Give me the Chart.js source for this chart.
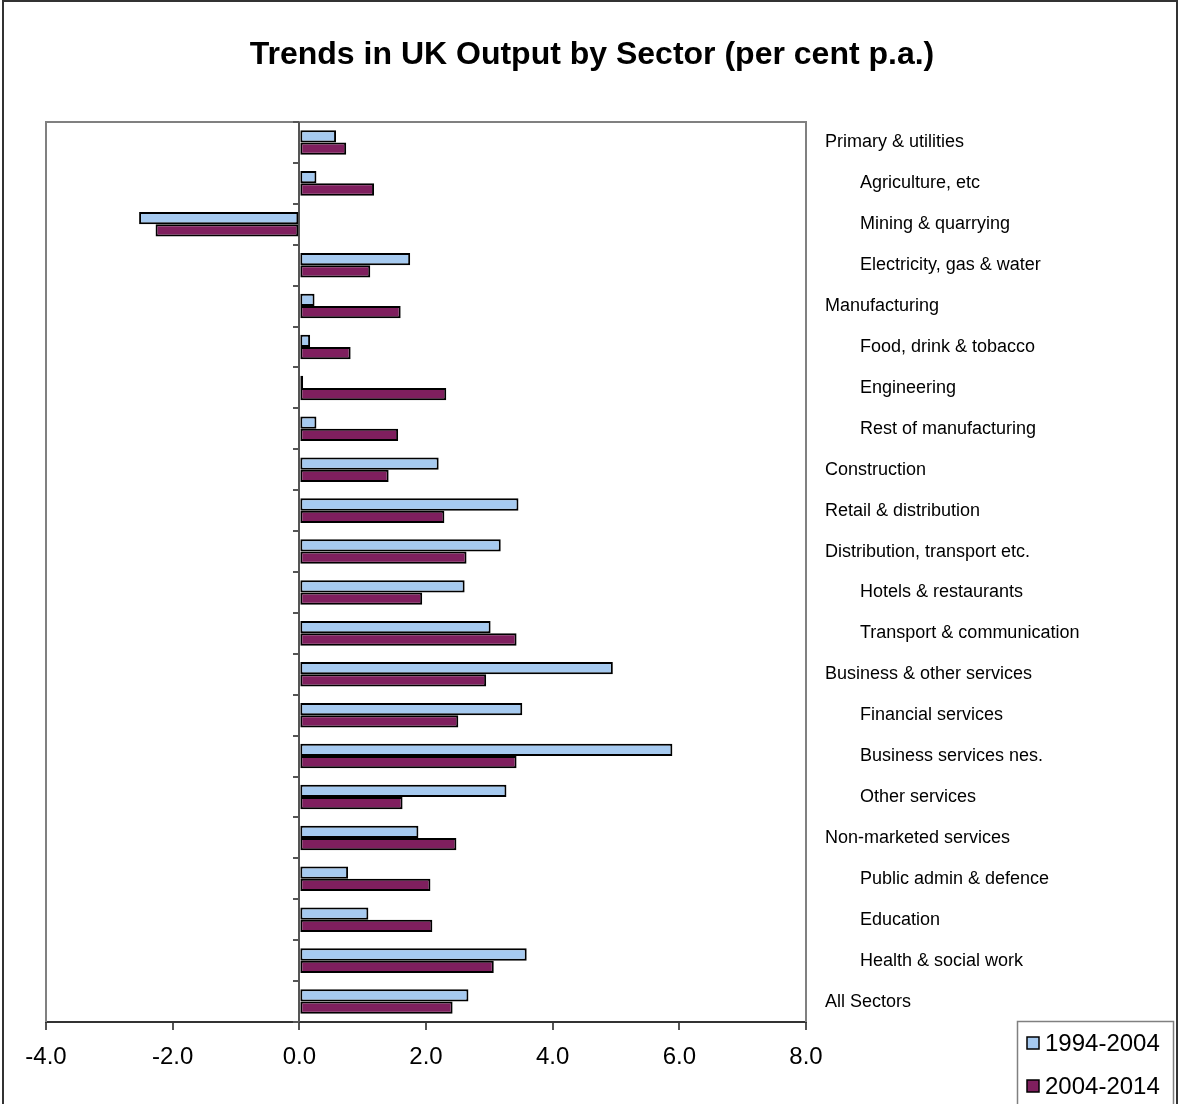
<!DOCTYPE html>
<html>
<head>
<meta charset="utf-8">
<script src="https://cdn.jsdelivr.net/npm/chart.js@4/dist/chart.umd.min.js"></script>
<style>
  html, body { margin: 0; padding: 0; background: #fff; }
  #wrap { width: 1179px; height: 1104px; position: relative; }
</style>
</head>
<body>
<div id="wrap"><canvas id="myChart"></canvas></div>
<script>
// sector names, indent flag marks sub-sectors
var sectors = [
    'Primary & utilities', 'Agriculture, etc', 'Mining & quarrying', 'Electricity, gas & water',
    'Manufacturing', 'Food, drink & tobacco', 'Engineering', 'Rest of manufacturing',
    'Construction', 'Retail & distribution', 'Distribution, transport etc.',
    'Hotels & restaurants', 'Transport & communication', 'Business & other services',
    'Financial services', 'Business services nes.', 'Other services',
    'Non-marketed services', 'Public admin & defence', 'Education',
    'Health & social work', 'All Sectors'
];
var indented = [0, 1, 1, 1, 0, 1, 1, 1, 0, 0, 0, 1, 1, 0, 1, 1, 1, 0, 1, 1, 1, 0];

var growth9404 = [0.58, 0.27, -2.53, 1.75, 0.24, 0.17, 0.06, 0.27, 2.20, 3.46, 3.18,
    2.61, 3.02, 4.95, 3.52, 5.89, 3.27, 1.88, 0.77, 1.09, 3.59, 2.67];
var growth0414 = [0.74, 1.18, -2.27, 1.12, 1.60, 0.81, 2.32, 1.56, 1.41, 2.29, 2.64,
    1.94, 3.43, 2.95, 2.51, 3.43, 1.63, 2.48, 2.07, 2.10, 3.07, 2.42];

var seriesNames = ['1994-2004', '2004-2014'];
var seriesColors = ['#a6caf0', '#7f1f5e'];

var xTicks = [-4, -2, 0, 2, 4, 6, 8];

var titleText = 'Trends in UK Output by Sector (per cent p.a.)';
var font = "'Liberation Sans', Arial, sans-serif";

var labels = sectors.map((s, i) => (indented[i] ? '       ' : '') + s);

// plot frame, zero line with category ticks, title, outer border and legend
var framePlugin = {
    id: 'frame',
    beforeDatasetsDraw: chart => {
        var ctx = chart.ctx, a = chart.chartArea;
        var x = chart.scales.x;
        ctx.save();
        ctx.strokeStyle = '#808080';
        ctx.lineWidth = 2;
        ctx.beginPath();
        ctx.moveTo(a.left, a.bottom);
        ctx.lineTo(a.left, a.top);
        ctx.lineTo(a.right, a.top);
        ctx.lineTo(a.right, a.bottom);
        ctx.stroke();

        var zx = Math.round(x.getPixelForValue(0));
        ctx.strokeStyle = '#555';
        ctx.lineWidth = 2;
        ctx.beginPath();
        ctx.moveTo(zx, a.top);
        ctx.lineTo(zx, a.bottom);
        var step = (a.bottom - a.top) / sectors.length;
        for (var k = 0; k <= sectors.length; k++) {
            var ty = Math.round(a.top + k * step);
            ctx.moveTo(zx - 6, ty);
            ctx.lineTo(zx, ty);
        }
        ctx.stroke();
        ctx.restore();
    },
    afterDraw: chart => {
        var ctx = chart.ctx;
        ctx.save();
        ctx.fillStyle = '#000';
        ctx.font = 'bold 32px ' + font;
        ctx.textAlign = 'center';
        ctx.textBaseline = 'middle';
        ctx.fillText(titleText, 592, 55);

        ctx.strokeStyle = '#333';
        ctx.lineWidth = 2;
        ctx.beginPath();
        ctx.moveTo(3, chart.height + 5);
        ctx.lineTo(3, 1);
        ctx.lineTo(1177, 1);
        ctx.lineTo(1177, chart.height + 5);
        ctx.stroke();

        // legend box
        ctx.strokeStyle = '#808080';
        ctx.lineWidth = 1.5;
        ctx.strokeRect(1017.5, 1021.5, 156, 90);
        ctx.font = '24px ' + font;
        ctx.textAlign = 'left';
        var ys = [1043, 1086];
        seriesNames.forEach((name, i) => {
            ctx.fillStyle = seriesColors[i];
            ctx.fillRect(1027, ys[i] - 6, 12, 12);
            ctx.strokeStyle = '#000';
            ctx.lineWidth = 1.5;
            ctx.strokeRect(1027, ys[i] - 6, 12, 12);
            ctx.fillStyle = '#000';
            ctx.fillText(name, 1045, ys[i] + 1);
        });
        ctx.restore();
    }
};

var ctx = document.getElementById('myChart').getContext('2d');

var myChart = new Chart(ctx, {
    type: 'bar',
    data: {
        labels: labels,
        datasets: [
            { label: seriesNames[0], data: growth9404, backgroundColor: seriesColors[0] },
            { label: seriesNames[1], data: growth0414, backgroundColor: seriesColors[1] }
        ]
    },
    options: {
        indexAxis: 'y',
        responsive: true,
        maintainAspectRatio: false,
        animation: false,
        devicePixelRatio: 1,
        layout: { padding: { left: 46, top: 122, right: 0, bottom: 0 } },
        datasets: {
            bar: {
                borderColor: '#000',
                borderWidth: 2,
                borderSkipped: false,
                categoryPercentage: 0.6,
                barPercentage: 1.0
            }
        },
        plugins: {
            legend: { display: false },
            tooltip: { enabled: false },
            title: { display: false }
        },
        scales: {
            x: {
                min: -4,
                max: 8,
                afterBuildTicks: scale => { scale.ticks = xTicks.map(v => ({ value: v })); },
                afterFit: scale => { scale.height = 82; },
                grid: {
                    drawOnChartArea: false,
                    drawTicks: true,
                    tickLength: 8,
                    color: '#555',
                    lineWidth: 2
                },
                border: { display: true, color: '#333', width: 2 },
                ticks: {
                    color: '#000',
                    padding: 13,
                    font: { family: font, size: 24 },
                    callback: v => Number(v).toFixed(1),
                    maxRotation: 0
                }
            },
            y: {
                position: 'right',
                afterFit: scale => { scale.width = 373; },
                grid: { display: false },
                border: { display: false },
                ticks: {
                    color: '#000',
                    crossAlign: 'near',
                    padding: 11,
                    autoSkip: false,
                    font: { family: font, size: 18 }
                }
            }
        }
    },
    plugins: [framePlugin]
});
</script>
</body>
</html>
